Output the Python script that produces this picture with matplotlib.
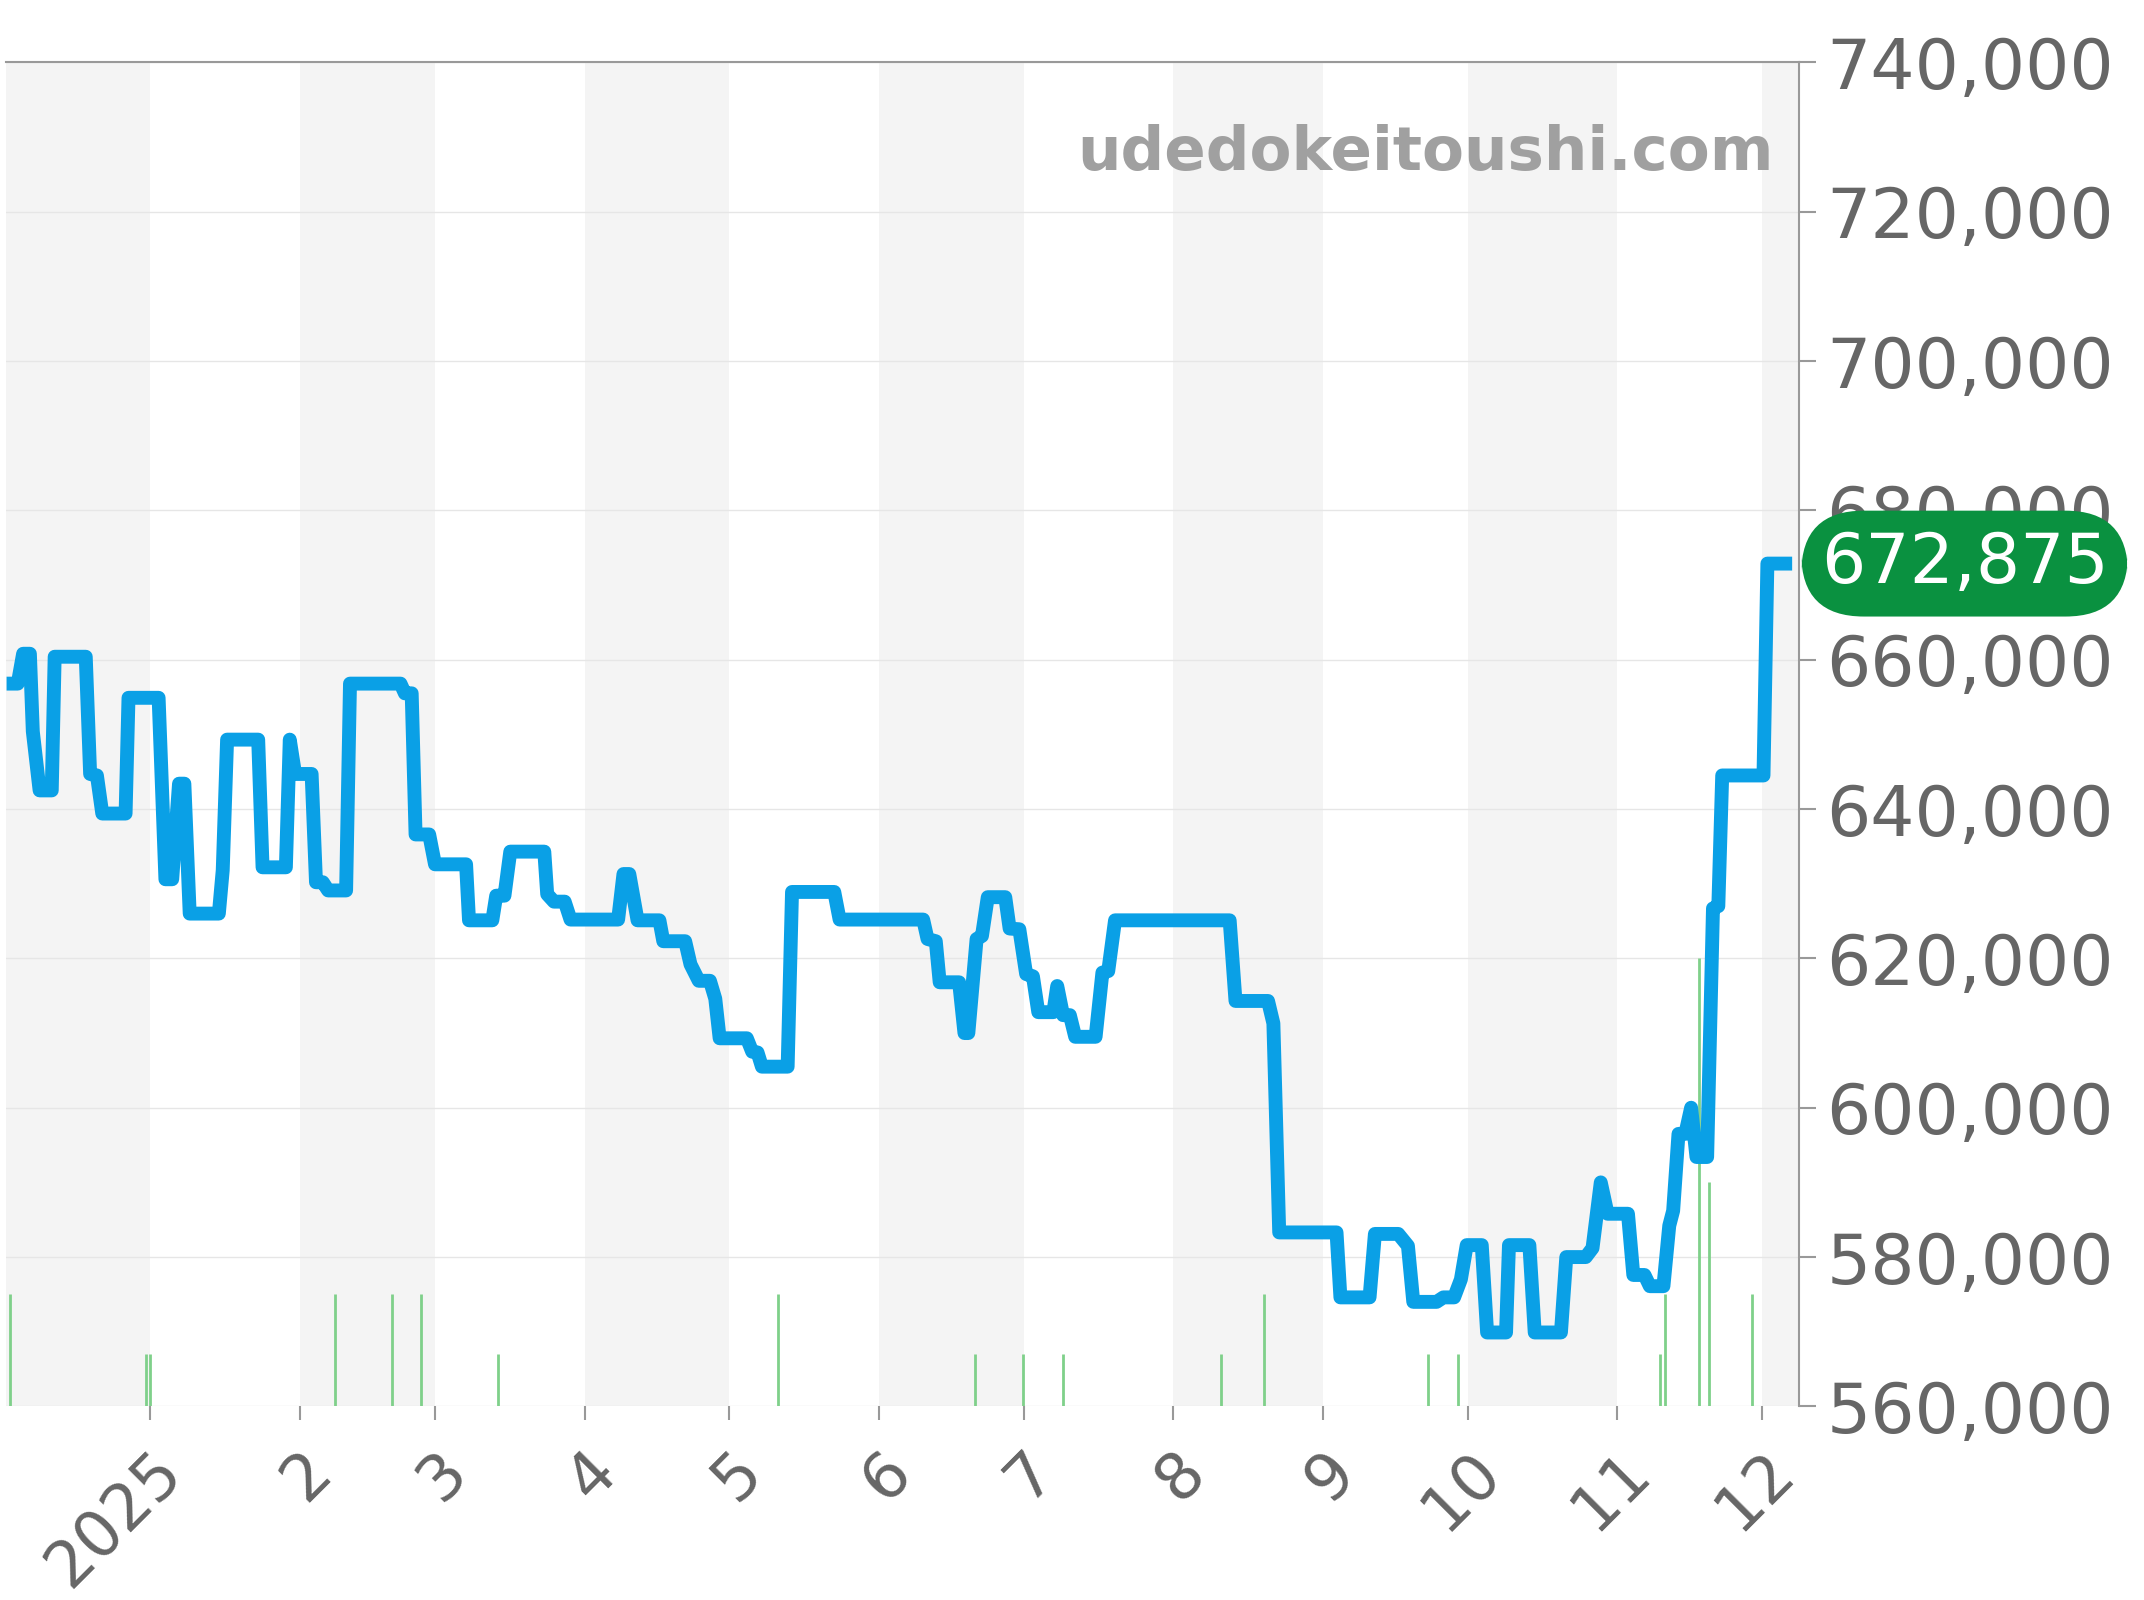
import matplotlib
matplotlib.use("Agg")
import matplotlib.pyplot as plt
import datetime as dt

base = dt.datetime(2024, 12, 1)
days = [0,2.3,3.4,4.8,5.4,6.8,9.3,9.9,16.3,17.2,18.6,19.7,24.5,25.1,31.3,32.7,34.1,35.5,36.6,37.7,43.7,44.5,45.4,51.8,52.7,57.5,58.3,59.4,62.8,63.7,65.1,66.2,69.9,70.7,81.1,82.0,83.4,84.2,87.0,88.2,94.6,95.2,100.0,100.8,102.5,103.7,110.7,111.3,112.7,114.9,116.1,125.9,127.0,128.2,129.9,134.4,135.2,139.7,140.8,142.5,144.8,145.9,146.8,152.4,153.5,154.6,155.5,160.8,161.7,170.4,171.5,188.7,189.6,191.3,192.1,196.1,197.2,198.0,199.7,200.8,202.0,205.6,206.5,208.5,209.9,211.3,212.4,215.5,216.3,217.5,218.9,220.0,224.2,225.6,226.8,228.2,251.8,253.0,259.7,260.8,262.0,273.8,274.6,280.6,281.7,286.5,288.5,289.6,294.4,295.8,298.0,299.4,300.6,303.7,304.8,308.7,309.3,313.5,314.6,320.0,321.1,325.1,326.5,328.2,329.6,333.8,334.9,337.2,338.3,341.1,342.3,343.1,344.2,345.6,346.8,347.9,350.1,351.3,352.4,353.2,361.7,362.5,367.6]
prices = [656.8,656.8,660.8,660.8,650.4,642.5,642.5,660.4,660.4,644.7,644.5,639.4,639.4,654.9,654.9,630.6,630.6,643.4,643.4,626.0,626.0,631.8,649.3,649.3,632.2,632.2,649.3,644.7,644.7,630.2,630.2,629.1,629.1,656.8,656.8,655.5,655.5,636.6,636.6,632.6,632.6,625.1,625.1,628.4,628.4,634.3,634.3,628.6,627.6,627.6,625.2,625.2,631.3,631.3,625.1,625.1,622.3,622.3,619.2,617.0,617.0,614.6,609.3,609.3,607.5,607.4,605.5,605.5,628.9,628.9,625.2,625.2,622.6,622.3,616.8,616.8,610.0,610.0,622.6,623.0,628.2,628.2,624.0,623.9,617.9,617.6,612.8,612.8,616.3,612.4,612.4,609.5,609.5,618.1,618.3,625.1,625.1,614.3,614.3,611.3,583.3,583.3,574.6,574.6,583.1,583.1,581.5,574.0,574.0,574.6,574.6,577.0,581.6,581.6,569.9,569.9,581.6,581.6,569.9,569.9,580.0,580.0,581.2,590.0,585.8,585.8,577.6,577.6,576.1,576.1,584.2,586.2,596.5,596.5,600.0,593.4,593.4,626.7,627.0,644.5,644.5,672.875,672.875]
prices = [p * 1000 for p in prices]

vol_days = [0.8,28.7,29.6,67.6,79.4,85.4,101.1,158.9,199.4,209.3,217.5,250.1,258.9,292.7,298.9,340.3,341.4,348.5,350.4,359.4]
vol_tops = [575,567,567,575,575,575,567,575,567,567,567,567,575,567,567,567,575,620,590,575]
vol_tops = [v * 1000 for v in vol_tops]

yticks = [560000,580000,600000,620000,640000,660000,680000,700000,720000,740000]
month_labels = ["2025","2","3","4","5","6","7","8","9","10","11","12"]
last_label = "672,875"

to_date = lambda d: base + dt.timedelta(days=1.23 + 1.0065 * d)
x = [to_date(d) for d in days]
vx = [to_date(d) for d in vol_days]

fig = plt.figure(figsize=(21.44, 16), dpi=100)
ax = fig.add_axes([0.003, 0.121, 0.836, 0.840])
xmin = base + dt.timedelta(days=1.2)
xmax = base + dt.timedelta(days=372.6)
ax.set_xlim(xmin, xmax)
ax.set_ylim(560000, 740000)

months = [dt.datetime(2024, 12, 1)] + [dt.datetime(2025, m, 1) for m in range(1, 13)] + [dt.datetime(2026, 1, 1)]
for i in range(len(months) - 1):
    if i % 2 == 0:
        ax.axvspan(max(months[i], xmin), min(months[i + 1], xmax), color="#f4f4f4", zorder=0, lw=0)

for y in yticks:
    ax.axhline(y, color="#e6e6e6", lw=1, zorder=1)

ax.vlines(vx, 560000, vol_tops, color="#7fd08a", lw=2, zorder=2)
ax.plot(x, prices, color="#0aa0e6", lw=10, solid_joinstyle="round", solid_capstyle="butt", zorder=3)

for s in ["left", "bottom"]:
    ax.spines[s].set_visible(False)
for s in ["top", "right"]:
    ax.spines[s].set_color("#999999")
    ax.spines[s].set_linewidth(1.5)

ax.yaxis.tick_right()
ax.set_yticks(yticks)
ax.set_yticklabels([f"{v:,}" for v in yticks], fontsize=50, color="#666666")
ax.tick_params(axis="y", length=12, width=1.5, color="#999999", pad=8)

ax.set_xticks(months[1:13])
ax.set_xticklabels(month_labels, fontsize=46, color="#666666", rotation=45, ha="right", rotation_mode="anchor")
ax.tick_params(axis="x", length=10, width=1.5, color="#999999", pad=14)

ax.text(0.986, 0.932, "udedokeitoushi.com", transform=ax.transAxes, ha="right", va="center",
        fontsize=44, fontweight="bold", color="#a0a0a0")

ax.text(1.0925, (672875 - 560000) / 180000, last_label, transform=ax.transAxes, ha="center", va="center",
        fontsize=50, color="white",
        bbox=dict(boxstyle="round,pad=0.28,rounding_size=0.9", fc="#0a9140", ec="none"), zorder=5, clip_on=False)

fig.savefig("out.png", dpi=100)
